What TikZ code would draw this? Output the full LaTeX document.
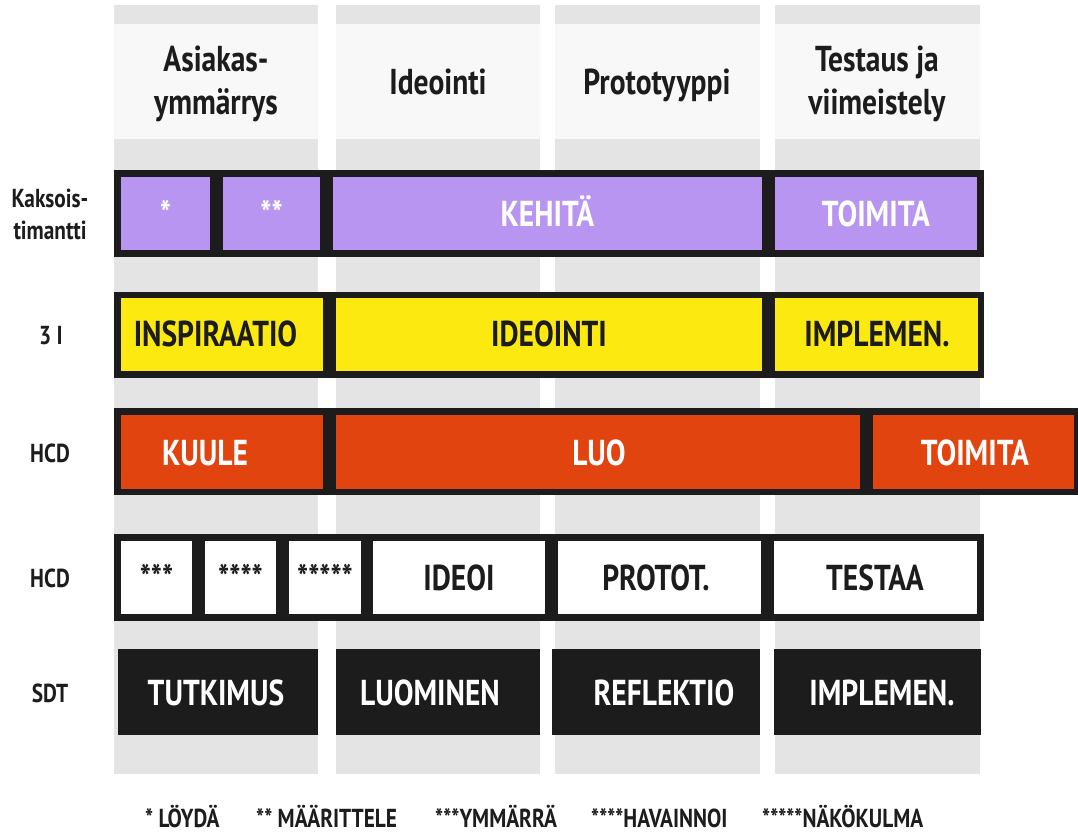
\documentclass[tikz,border=0pt]{standalone}
\usepackage{fontspec}
\setmainfont[FakeStretch=0.82]{PT Sans}

\definecolor{ink}{HTML}{1C1C1C}
\definecolor{colgray}{HTML}{E4E4E4}
\definecolor{headgray}{HTML}{F8F8F8}
\definecolor{lilac}{HTML}{B795F1}
\definecolor{sun}{HTML}{FCE90F}
\definecolor{flame}{HTML}{E24410}

\tikzset{
  rowlabel/.style={font=\fontsize{26}{32}\selectfont\bfseries, text=ink, anchor=base, inner sep=0pt, align=center},
  head/.style={font=\fontsize{36}{43.5}\selectfont\bfseries, text=ink, anchor=base, inner sep=0pt, align=center},
  celltext/.style={font=\fontsize{36}{43}\selectfont\bfseries, anchor=base, inner sep=0pt},
  legend/.style={font=\fontsize{26}{31}\selectfont\bfseries, text=ink, anchor=base west, inner sep=0pt},
}

\begin{document}
\begin{tikzpicture}[x=1pt,y=-1pt]
\useasboundingbox (0,0) rectangle (1078,834);
\fill[white] (0,0) rectangle (1078,834);

% phase columns with their header panels
\foreach \a/\b in {114/318,336/540,555/760,775/980}{
  \fill[colgray] (\a,5) rectangle (\b,774);
  \fill[headgray] (\a,24) rectangle (\b,139);
}

% two-line nodes are anchored on the baseline of their last line
\node[head] (h1) at (216,115) {Asiakas-\\ymmärrys};
\node[head] (h2) at (438,95) {Ideointi};
\node[head] (h3) at (657,95) {Prototyyppi};
\node[head] (h4) at (877,115) {Testaus ja\\viimeistely};

% row labels
\node[rowlabel] (l1) at (50,240) {Kaksois-\\timantti};
\node[rowlabel] (l2) at (51,344) {3 I};
\node[rowlabel] (l3) at (50,462) {HCD};
\node[rowlabel] (l4) at (50,587) {HCD};
\node[rowlabel] (l5) at (50,702) {SDT};

% double diamond
\fill[ink] (114,170) rectangle (984,257);
\foreach \a/\b in {121/210,223/320,333/762,775/977}
  \fill[lilac] (\a,177) rectangle (\b,250);
\node[celltext, text=white] (dd1) at (165.5,227) {*};
\node[celltext, text=white] (dd2) at (271.5,227) {**};
\node[celltext, text=white] (dd3) at (547.5,227) {KEHITÄ};
\node[celltext, text=white] (dd4) at (876,227) {TOIMITA};

% 3 I
\fill[ink] (114,291.5) rectangle (984,377.5);
\foreach \a/\b in {121/323,336/762,775/978}
  \fill[sun] (\a,298) rectangle (\b,371);
\node[celltext, text=ink] (ti1) at (215.5,346.5) {INSPIRAATIO};
\node[celltext, text=ink] (ti2) at (549,346.5) {IDEOINTI};
\node[celltext, text=ink] (ti3) at (877,346.5) {IMPLEMEN.};

% HCD, three phases
\fill[ink] (114,408) rectangle (1078,495);
\foreach \a/\b in {121/323,336/860,873/1074}
  \fill[flame] (\a,415) rectangle (\b,489);
\node[celltext, text=white] (hc1) at (205,465) {KUULE};
\node[celltext, text=white] (hc2) at (599,465) {LUO};
\node[celltext, text=white] (hc3) at (975,465) {TOIMITA};

% HCD, detailed steps
\fill[ink] (114,534) rectangle (984,621);
\foreach \a/\b in {121/192,205/276,289/361,373/545,558/761,774/977}
  \fill[white] (\a,541) rectangle (\b,614);
\node[celltext, text=ink] (hd1) at (156.5,590) {***};
\node[celltext, text=ink] (hd2) at (240.5,590) {****};
\node[celltext, text=ink] (hd3) at (325,590) {*****};
\node[celltext, text=ink] (hd4) at (459,590) {IDEOI};
\node[celltext, text=ink] (hd5) at (656,590) {PROTOT.};
\node[celltext, text=ink] (hd6) at (875,590) {TESTAA};

% SDT
\foreach \a/\b in {118/318,336/540,552/760,774/981}
  \fill[ink] (\a,649) rectangle (\b,735);
\node[celltext, text=white] (sd1) at (216,705) {TUTKIMUS};
\node[celltext, text=white] (sd2) at (430,705) {LUOMINEN};
\node[celltext, text=white] (sd3) at (664,705) {REFLEKTIO};
\node[celltext, text=white] (sd4) at (882,705) {IMPLEMEN.};

% footnotes
\node[legend] (f1) at (145,827) {* LÖYDÄ};
\node[legend] (f2) at (256,827) {** MÄÄRITTELE};
\node[legend] (f3) at (435,827) {***YMMÄRRÄ};
\node[legend] (f4) at (591,827) {****HAVAINNOI};
\node[legend] (f5) at (762,827) {*****NÄKÖKULMA};
\end{tikzpicture}
\end{document}
